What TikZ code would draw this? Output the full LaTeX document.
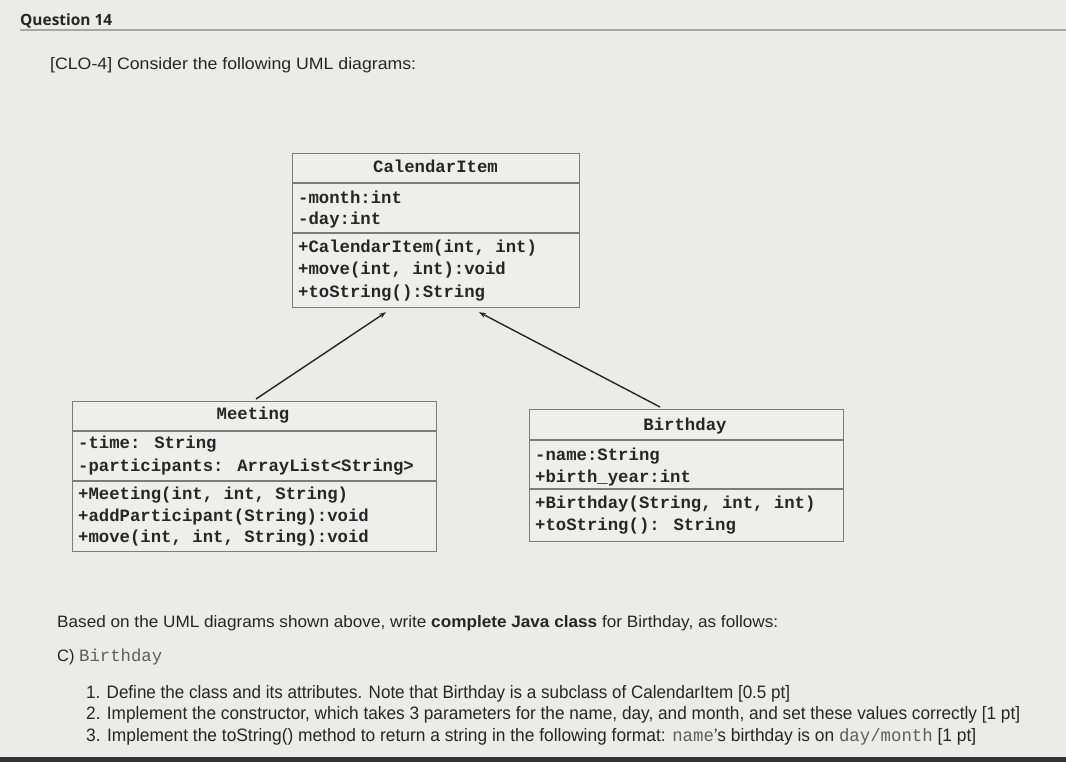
\documentclass[tikz,border=0pt]{standalone}
\usepackage{fontspec}
\setmainfont{Liberation Sans}
\newfontfamily\umlfont{Liberation Mono}
\newfontfamily\qfont{Open Sans}
\usetikzlibrary{arrows.meta}
\definecolor{bg}{HTML}{EBEBEA}
\definecolor{boxfill}{HTML}{EEEEED}
\definecolor{boxline}{HTML}{7C7C7C}
\definecolor{ink}{HTML}{262626}
\definecolor{monogrey}{HTML}{5E5E5E}
\newcommand{\fitw}[2]{\resizebox{#1}{\height}{#2}}
\tikzset{
  umlbox/.style={draw=boxline, fill=boxfill, line width=1.2pt, inner sep=0pt, anchor=north west},
  sepline/.style={draw=boxline, line width=1.1pt},
  umltxt/.style={inner sep=0pt, anchor=base west, text=ink, font=\umlfont\bfseries\fontsize{17.3}{20}\selectfont},
  umltitle/.style={umltxt, anchor=base},
  bodytxt/.style={inner sep=0pt, anchor=base west, text=ink, font=\fontsize{16.5}{20}\selectfont},
  itemtxt/.style={inner sep=0pt, anchor=base west, text=ink, font=\fontsize{18}{20}\selectfont},
  inherit/.style={draw=ink, line width=1.4pt, -{Stealth[length=7pt,width=5pt]}}
}
\begin{document}
\begin{tikzpicture}[x=1pt,y=-1pt]
\useasboundingbox (0,0) rectangle (1066,762);
\fill[bg] (0,0) rectangle (1066,762);
\fill[black!80] (0,757) rectangle (1066,762);

% header
\node[inner sep=0pt, anchor=base west, text=ink, font=\qfont\bfseries\fontsize{15.5}{18}\selectfont] (q) at (20,26) {\fitw{92pt}{Question 14}};
\coordinate (hl) at (1066,30);
\draw[black!35, line width=1.5pt] (q.south west |- hl) -- (hl);
\node[bodytxt] (clo) at (50,70) {\fitw{366pt}{[CLO-4] Consider the following UML diagrams:}};

% CalendarItem
\node[umlbox, minimum width=287pt, minimum height=154pt] (ci) at (292,153) {};
\draw[sepline] ([yshift=-30pt]ci.north west) -- ([yshift=-30pt]ci.north east);
\draw[sepline] ([yshift=-80pt]ci.north west) -- ([yshift=-80pt]ci.north east);
\node[umltitle] (ci-t) at (435.5,173) {CalendarItem};
\node[umltxt] (ci-a1) at (298,204) {-month:int};
\node[umltxt] (ci-a2) at (298,225) {-day:int};
\node[umltxt] (ci-m1) at (298,253) {+CalendarItem(int, int)};
\node[umltxt] (ci-m2) at (298,275) {+move(int, int):void};
\node[umltxt] (ci-m3) at (298,298) {+toString():String};

% Meeting
\node[umlbox, minimum width=364pt, minimum height=150pt] (mt) at (72,401) {};
\draw[sepline] ([yshift=-30pt]mt.north west) -- ([yshift=-30pt]mt.north east);
\draw[sepline] ([yshift=-80pt]mt.north west) -- ([yshift=-80pt]mt.north east);
\node[umltitle] (mt-t) at (253,419) {Meeting};
\node[umltxt] (mt-a1) at (78,448) {-time: String};
\node[umltxt] (mt-a2) at (78,471) {-participants: ArrayList<String>};
\node[umltxt] (mt-m1) at (78,499) {+Meeting(int, int, String)};
\node[umltxt] (mt-m2) at (78,521) {+addParticipant(String):void};
\node[umltxt] (mt-m3) at (78,542) {+move(int, int, String):void};

% Birthday
\node[umlbox, minimum width=314pt, minimum height=132pt] (bd) at (529,409) {};
\draw[sepline] ([yshift=-31pt]bd.north west) -- ([yshift=-31pt]bd.north east);
\draw[sepline] ([yshift=-80pt]bd.north west) -- ([yshift=-80pt]bd.north east);
\node[umltitle] (bd-t) at (685,430) {Birthday};
\node[umltxt] (bd-a1) at (535,460) {-name:String};
\node[umltxt] (bd-a2) at (535,482) {+birth\_year:int};
\node[umltxt] (bd-m1) at (535,508) {+Birthday(String, int, int)};
\node[umltxt] (bd-m2) at (535,530) {+toString(): String};

% inheritance connectors
\draw[inherit] ([xshift=184pt,yshift=2pt]mt.north west) -- ([xshift=94pt,yshift=-4pt]ci.south west);
\draw[inherit] ([xshift=131pt,yshift=2pt]bd.north west) -- ([xshift=187pt,yshift=-4pt]ci.south west);

% question text
\node[bodytxt] (based) at (57,627) {\fitw{721pt}{Based on the UML diagrams shown above, write \textbf{complete Java class} for Birthday, as follows:}};
\node[bodytxt] (cpart) at (57,661) {C) {\umlfont\color{monogrey}\fontsize{17.3}{20}\selectfont Birthday}};
\node[itemtxt] (i1) at (86,698) {\fitw{704pt}{1. Define the class and its attributes. Note that Birthday is a subclass of CalendarItem [0.5 pt]}};
\node[itemtxt] (i2) at (86,719) {\fitw{934pt}{2. Implement the constructor, which takes 3 parameters for the name, day, and month, and set these values correctly [1 pt]}};
\node[itemtxt] (i3) at (86,741) {\fitw{890pt}{3. Implement the toString() method to return a string in the following format: {\umlfont\color{monogrey}name}'s birthday is on {\umlfont\color{monogrey}day/month} [1 pt]}};
\end{tikzpicture}
\end{document}
